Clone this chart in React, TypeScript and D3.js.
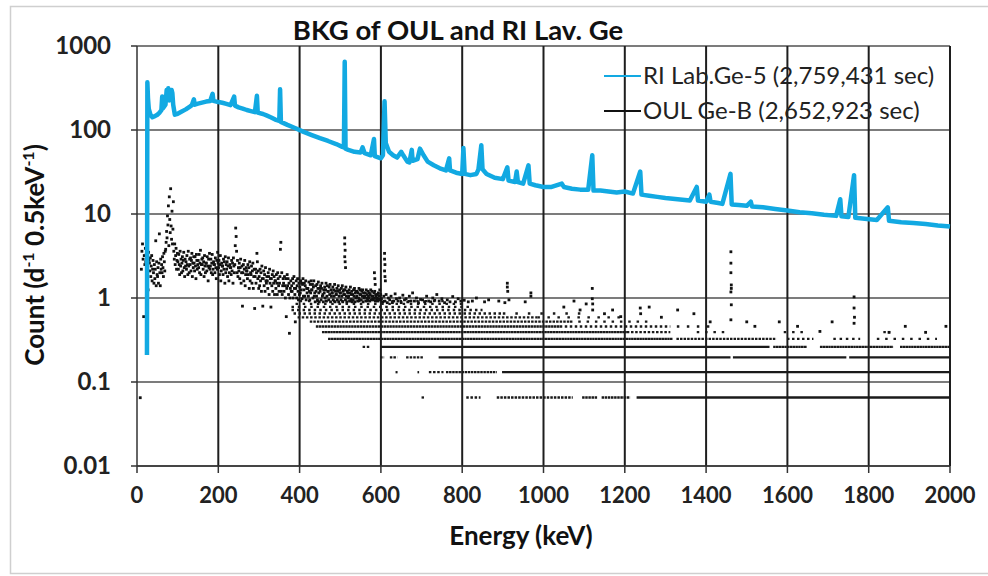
import React from "react";
import * as d3 from "d3";

// RI Lab.Ge-5 spectrum, [keV, count] (continuum + peaks)
const riSpectrum: [number, number][] = [
  [24.5, 0.21], [25.5, 370], [27, 240], [29, 178], [33, 152], [38, 142], [44, 146], [50, 152],
  [55, 160], [60, 172], [62, 250], [64, 182], [70, 200], [73, 300], [75, 240], [77, 315],
  [79, 225], [82, 262], [85, 300], [87, 275], [89, 200], [93, 152], [100, 156], [110, 166],
  [120, 176], [130, 190], [135, 198], [140, 232], [142, 200], [150, 206], [160, 212], [170, 218],
  [180, 222], [186, 270], [188, 222], [200, 215], [210, 211], [220, 205], [230, 198], [239, 250],
  [241, 195], [250, 186], [260, 180], [270, 173], [280, 168], [290, 163], [295, 255], [297, 161],
  [310, 155], [320, 148], [330, 141], [340, 133], [350, 128], [352, 305], [354, 125], [370, 115],
  [390, 105], [410, 95], [430, 87], [450, 80], [470, 74], [490, 68], [505, 63], [509, 62],
  [511, 650], [513, 60], [520, 58], [535, 55], [550, 54], [555, 62], [560, 53], [575, 50],
  [583, 78], [585, 49], [595, 47], [600, 46], [605, 50], [609, 220], [612, 70], [620, 55],
  [630, 50], [640, 47], [650, 55], [655, 50], [665, 42], [670, 41], [676, 58], [678, 43],
  [690, 45], [696, 60], [705, 50], [715, 42], [730, 38], [745, 35], [760, 33], [768, 46],
  [770, 33], [785, 31], [800, 30], [803, 61], [806, 30], [820, 29], [835, 30], [840, 34],
  [847, 66], [850, 34], [860, 30], [880, 27], [900, 26], [911, 36], [914, 25], [930, 24],
  [934, 32], [937, 24], [950, 23], [963, 38], [966, 23], [980, 22], [1000, 21], [1020, 21],
  [1045, 23], [1050, 21], [1070, 20], [1090, 19.5], [1110, 19.5], [1120, 50], [1123, 19],
  [1140, 19], [1160, 18.5], [1180, 18], [1200, 18.5], [1220, 17.5], [1238, 32], [1241, 17],
  [1260, 16.5], [1280, 16], [1300, 15.5], [1330, 15], [1360, 14.5], [1377, 21], [1380, 14.5],
  [1400, 14], [1408, 17], [1411, 14], [1430, 13.5], [1440, 13.2], [1460, 30], [1463, 13],
  [1480, 12.8], [1500, 12.5], [1510, 14], [1513, 12.3], [1540, 12], [1570, 11.5], [1600, 11],
  [1630, 10.5], [1660, 10.2], [1690, 9.8], [1720, 9.5], [1730, 15], [1733, 9.4], [1750, 9.2],
  [1764, 29], [1767, 9], [1790, 8.8], [1820, 8.5], [1847, 12], [1850, 8.3], [1880, 8.0],
  [1910, 7.8], [1940, 7.6], [1970, 7.3], [2000, 7.1],
];

// OUL Ge-B scatter, low-energy cloud: [bin start keV, counts seen in that bin]
const oulCloud: [number, number[]][] = [
  [10, [2.2, 3.6, 4.4, 2.9, 0.6, 3.2, 2.5]],
  [20, [3.9, 2.7, 3.3, 4.1, 2.4, 3.0, 1.25, 3.5, 2.8]],
  [30, [2.6, 2.1, 3.0, 1.8, 2.4, 3.2, 1.6, 2.2, 2.8]],
  [40, [2.0, 1.5, 2.5, 1.7, 2.2, 4.8, 1.4, 2.7, 1.9]],
  [50, [1.8, 2.3, 1.5, 2.6, 5.8, 2.0, 1.4, 2.9, 2.2]],
  [60, [2.5, 2.0, 3.1, 2.3, 1.8, 3.4, 2.7, 2.1, 3.6]],
  [70, [3.8, 4.6, 6.2, 5.2, 9.5, 7.4, 12.5, 4.2, 16]],
  [80, [8.6, 6.0, 20, 7.2, 5.0, 10.8, 4.4, 6.6, 14]],
  [90, [3.6, 2.9, 4.4, 2.5, 3.2, 3.9, 2.2, 2.8, 3.4]],
  [100, [2.7, 2.2, 3.3, 2.5, 1.9, 3.6, 2.4, 2.9, 2.0]],
  [110, [2.6, 3.1, 2.1, 2.8, 3.5, 2.3, 1.8, 2.9, 2.4]],
  [120, [2.7, 2.2, 3.2, 2.5, 1.9, 3.6, 2.4, 2.0, 2.9]],
  [130, [2.5, 3.0, 2.1, 2.8, 3.4, 1.8, 2.6, 2.3, 3.1]],
  [140, [2.6, 2.1, 3.1, 2.4, 1.7, 3.3, 2.8, 2.2, 2.5]],
  [150, [2.8, 2.3, 3.3, 2.0, 2.6, 3.7, 1.9, 2.5, 2.9]],
  [160, [2.5, 3.0, 2.2, 2.7, 1.8, 3.2, 2.4, 2.0, 2.6]],
  [170, [2.6, 2.1, 3.1, 2.4, 1.6, 2.9, 2.3, 3.4, 2.2]],
  [180, [2.4, 2.9, 2.0, 2.6, 3.3, 1.9, 2.2, 2.7, 2.5]],
  [190, [2.5, 2.0, 3.0, 2.3, 1.7, 2.8, 2.2, 3.5, 2.6]],
  [200, [2.3, 2.8, 1.9, 2.5, 3.2, 1.6, 2.1, 2.6, 2.4]],
  [210, [2.4, 1.9, 2.9, 2.2, 2.7, 1.5, 3.1, 2.0, 2.5]],
  [220, [2.2, 2.7, 1.8, 2.4, 3.0, 1.6, 2.0, 2.5, 2.3]],
  [230, [2.3, 1.9, 2.8, 2.1, 2.6, 1.5, 3.0, 2.4, 2.0]],
  [240, [2.5, 4.2, 6.8, 5.4, 3.6, 2.0, 2.8, 1.8, 2.3]],
  [250, [2.1, 2.6, 1.7, 2.3, 2.9, 1.5, 2.0, 2.4, 0.8]],
  [260, [2.0, 2.5, 1.6, 2.2, 2.8, 1.4, 1.9, 2.3, 2.1]],
  [270, [2.1, 1.7, 2.5, 1.9, 2.3, 1.3, 2.7, 1.6, 2.0]],
  [280, [1.9, 2.4, 1.5, 2.1, 2.6, 1.3, 1.8, 2.2, 0.75]],
  [290, [1.8, 2.2, 1.5, 2.0, 3.4, 2.7, 1.7, 2.1, 1.3]],
  [300, [1.8, 1.4, 2.2, 1.6, 2.0, 1.2, 2.4, 1.7, 0.8]],
  [310, [1.7, 2.1, 1.4, 1.9, 1.2, 2.3, 1.6, 1.5, 1.8]],
  [320, [1.6, 1.3, 2.0, 1.8, 1.1, 2.2, 1.5, 1.7, 0.78]],
  [330, [1.7, 1.4, 1.9, 1.2, 2.1, 1.5, 1.8, 1.1, 1.6]],
  [340, [1.6, 1.3, 1.9, 1.5, 1.1, 2.0, 1.7, 1.4, 1.2]],
  [350, [1.5, 1.8, 3.8, 4.6, 1.2, 2.0, 1.1, 1.4, 1.7]],
  [360, [1.5, 1.2, 1.8, 1.4, 1.0, 1.7, 0.6, 1.3, 1.9]],
  [370, [1.4, 1.7, 1.1, 1.5, 0.38, 1.0, 1.3, 1.6, 1.2]],
  [380, [1.4, 1.2, 1.7, 1.0, 1.5, 1.8, 1.3, 1.1, 0.52]],
  [390, [1.3, 1.6, 1.0, 1.4, 1.7, 1.2, 0.95, 1.5, 1.1]],
  [400, [1.35, 1.15, 1.6, 1.25, 1.5, 0.98, 1.45, 1.7, 1.05]],
  [410, [1.25, 1.5, 1.05, 1.4, 1.6, 0.95, 1.3, 1.15, 1.3]],
  [420, [1.3, 1.05, 1.55, 1.2, 0.95, 1.45, 1.15, 1.6, 1.25]],
  [430, [1.25, 1.45, 1.0, 1.35, 1.6, 1.05, 1.15, 0.9, 1.4]],
  [440, [1.2, 1.05, 1.45, 0.95, 1.3, 1.55, 1.15, 0.9, 1.3]],
  [450, [1.2, 1.4, 0.95, 1.3, 1.5, 1.05, 1.1, 0.9, 1.25]],
  [460, [1.15, 1.35, 1.0, 1.25, 1.5, 0.92, 1.05, 1.4, 1.2]],
  [470, [1.2, 0.95, 1.35, 1.1, 1.45, 0.9, 1.25, 1.05, 1.15]],
  [480, [1.15, 1.35, 0.95, 1.25, 1.05, 1.45, 0.9, 1.2, 1.1]],
  [490, [1.1, 1.3, 0.95, 1.2, 1.4, 0.9, 1.05, 1.25, 1.15]],
  [500, [1.15, 0.95, 1.3, 1.05, 1.4, 0.9, 1.2, 1.1, 1.25]],
  [510, [1.1, 1.25, 0.95, 1.35, 1.05, 0.9, 1.2, 1.15, 1.0]],
  [520, [1.05, 1.25, 0.92, 1.15, 1.35, 0.96, 1.1, 1.2, 0.9]],
  [530, [1.1, 0.95, 1.25, 1.05, 1.3, 0.9, 1.15, 1.0, 1.2]],
  [540, [1.05, 1.2, 0.92, 1.15, 1.0, 1.3, 0.95, 1.1, 1.25]],
  [550, [1.1, 0.95, 1.2, 1.05, 1.25, 0.9, 1.15, 1.0, 1.05]],
  [560, [1.05, 1.15, 0.92, 1.25, 1.0, 1.1, 0.95, 1.2, 1.05]],
  [570, [1.0, 1.15, 0.92, 1.1, 1.25, 0.95, 1.05, 1.2, 0.97]],
  [580, [1.05, 0.95, 1.15, 1.0, 1.2, 0.92, 1.1, 1.05, 0.97]],
  [590, [1.0, 1.1, 0.92, 1.15, 0.97, 1.05, 1.25, 0.95, 1.1]],
  [600, [0.98, 0.9, 1.05, 0.92, 1.1, 0.88, 1.0]],
  [620, [0.95, 1.05, 0.88, 0.92, 1.12, 0.98]],
  [640, [0.92, 1.0, 0.88, 1.08, 0.95]],
  [660, [0.98, 0.9, 1.05, 0.92, 1.15]],
  [680, [0.92, 1.0, 0.88, 0.96]],
  [700, [0.95, 0.9, 1.05, 0.92]],
  [720, [0.9, 1.0, 0.94, 1.1]],
  [740, [0.92, 0.98, 0.88]],
  [760, [0.95, 0.9, 1.04]],
  [780, [0.9, 0.98, 0.92]],
  [800, [0.94, 0.9]],
  [820, [0.92, 1.0]],
  [850, [0.9, 0.95]],
  [880, [0.92]],
  [900, [0.88, 0.95]],
  [950, [0.9]],
];

// OUL Ge-B isolated points (peaks and strays): [keV, count]
const oulPeaks: [number, number][] = [
  [8, 0.065], [511, 5.2], [511, 4.4], [512, 3.7], [511, 3.1], [512, 2.7], [513, 2.3],
  [584, 2.0], [585, 1.7], [586, 1.45], [609, 3.4], [609, 2.9], [610, 2.5], [609, 2.1],
  [610, 1.8], [611, 1.6], [911, 1.5], [911, 1.35], [912, 1.2], [969, 1.15], [969, 1.05],
  [1120, 1.3], [1120, 0.98], [1121, 0.85], [1121, 0.72], [1238, 0.76], [1239, 0.65],
  [1461, 3.55], [1461, 2.6], [1461, 2.0], [1462, 1.43], [1462, 1.3], [1461, 1.18],
  [1462, 0.83], [1461, 0.55], [1764, 1.03], [1764, 0.76], [1765, 0.59], [1764, 0.5],
  [1050, 0.78], [1075, 0.92], [1090, 0.72], [1105, 0.85], [1150, 0.65], [1170, 0.72],
  [1190, 0.6], [1260, 0.78], [1290, 0.59], [1330, 0.72], [1370, 0.65], [1410, 0.52],
  [1500, 0.52], [1520, 0.46], [1580, 0.52], [1625, 0.46], [1680, 0.4], [1710, 0.52],
  [1850, 0.39], [1890, 0.46], [1940, 0.39], [1990, 0.46],
];

// quantised count levels (multiples of one count): [level, from keV, to keV, share of channels hit]
const countUnit = 0.0654;
const oulLevels: [number, number, number, number][] = [
  [1, 700, 706, 1], [1, 810, 845, 0.6], [1, 885, 1072, 0.7], [1, 1095, 1132, 0.8],
  [1, 1143, 1213, 0.8], [1, 1229, 2000, 1],
  [2, 636, 641, 1], [2, 690, 694, 1], [2, 718, 754, 0.6], [2, 760, 885, 0.8], [2, 898, 2000, 1],
  [3, 598, 608, 0.7], [3, 622, 640, 0.7], [3, 662, 705, 0.7], [3, 742, 1460, 1],
  [3, 1466, 1745, 1], [3, 1752, 2000, 1],
  [4, 555, 575, 0.6], [4, 600, 1556, 1], [4, 1565, 1648, 0.9], [4, 1680, 1860, 0.9],
  [4, 1877, 2000, 0.9],
  [5, 470, 1318, 0.9], [5, 1327, 1573, 0.7], [5, 1599, 1664, 0.5], [5, 1713, 1779, 0.4],
  [5, 1820, 1968, 0.3],
  [6, 455, 1205, 0.9], [6, 1205, 1312, 0.6], [6, 1377, 1451, 0.3], [6, 1591, 1648, 0.3],
  [6, 1836, 1853, 0.5],
  [7, 440, 1040, 0.85], [7, 1040, 1312, 0.5], [7, 1328, 1418, 0.25],
  [8, 425, 1065, 0.7], [8, 1065, 1270, 0.3],
  [9, 395, 985, 0.6], [9, 985, 1200, 0.25],
  [10, 385, 900, 0.5], [10, 900, 1100, 0.2],
  [11, 380, 850, 0.45], [12, 380, 820, 0.4], [13, 390, 800, 0.35], [14, 400, 760, 0.3],
];

const xTicks = [0, 200, 400, 600, 800, 1000, 1200, 1400, 1600, 1800, 2000];
const yTicks = [0.01, 0.1, 1, 10, 100, 1000];
const yTickLabels = ["0.01", "0.1", "1", "10", "100", "1000"];
const seriesNames = ["RI Lab.Ge-5 (2,759,431 sec)", "OUL Ge-B (2,652,923 sec)"];

const FONT = "Lato, 'Open Sans', sans-serif";
const BLUE = "#12a9e2";

export default function App() {
  const x = d3.scaleLinear().domain([0, 2000]).range([137, 950]);
  const y = d3.scaleLog().domain([0.01, 1000]).range([466, 46]);

  const riLine = d3
    .line<[number, number]>()
    .x((d) => x(d[0]))
    .y((d) => y(d[1]));

  // spread each bin's counts across the bin width
  const cloudPts: [number, number][] = [];
  oulCloud.forEach(([e, vals], i) => {
    const next = i < oulCloud.length - 1 ? oulCloud[i + 1][0] : e + 10;
    const w = Math.min(next - e, 20);
    vals.forEach((v, j) => cloudPts.push([e + ((j + 0.5) * w) / vals.length, v]));
  });
  const dots = cloudPts.concat(oulPeaks);

  return (
    <svg
      width={988}
      height={576}
      style={{ position: "fixed", left: 0, top: 0, background: "#fff" }}
      fontFamily={FONT}
    >
      <rect x={10.5} y={6.5} width={990} height={567} fill="#fff" stroke="#cfcfcf" strokeWidth={1.5} />

      {/* gridlines */}
      {yTicks.map((t) => (
        <line key={"h" + t} x1={x(0)} x2={x(2000)} y1={y(t)} y2={y(t)} stroke="#7c7c7c" strokeWidth={2} />
      ))}
      {xTicks.slice(1).map((t) => (
        <line key={"v" + t} x1={x(t)} x2={x(t)} y1={y(1000)} y2={y(0.01)} stroke="#1e1e1e" strokeWidth={2} />
      ))}

      {/* OUL quantised levels */}
      {oulLevels.map(([lv, a, b, occ], i) => {
        const dash = occ >= 1 ? undefined : `2.5 ${((2.5 * (1 - occ)) / occ).toFixed(2)}`;
        return (
          <line
            key={"l" + i}
            x1={x(a)}
            x2={x(b)}
            y1={y(lv * countUnit)}
            y2={y(lv * countUnit)}
            stroke="#1a1a1a"
            strokeWidth={2.3}
            strokeDasharray={dash}
          />
        );
      })}
      {/* OUL points */}
      {dots.map(([e, v], i) => (
        <rect key={"d" + i} x={x(e) - 1.4} y={y(v) - 1.4} width={2.8} height={2.8} fill="#111" />
      ))}

      {/* RI line */}
      <path d={riLine(riSpectrum) || ""} fill="none" stroke={BLUE} strokeWidth={4.5} strokeLinejoin="round" />

      {/* axes */}
      <line x1={x(0)} x2={x(0)} y1={y(1000)} y2={y(0.01)} stroke="#333" strokeWidth={1.5} />
      <line x1={x(0)} x2={x(2000)} y1={y(0.01)} y2={y(0.01)} stroke="#333" strokeWidth={1.5} />
      {yTicks.map((t, i) => (
        <g key={"yt" + t}>
          <line x1={x(0) - 6} x2={x(0)} y1={y(t)} y2={y(t)} stroke="#333" strokeWidth={1.5} />
          <text x={111} y={y(t)} dy="0.35em" textAnchor="end" fontSize={24} fontWeight="bold" fill="#222">
            {yTickLabels[i]}
          </text>
        </g>
      ))}
      {xTicks.map((t) => (
        <g key={"xt" + t}>
          <line x1={x(t)} x2={x(t)} y1={y(0.01)} y2={y(0.01) + 7} stroke="#333" strokeWidth={1.5} />
          <text x={x(t)} y={503} textAnchor="middle" fontSize={22} fontWeight="bold" fill="#222">
            {d3.format("d")(t)}
          </text>
        </g>
      ))}

      {/* titles */}
      <text x={458} y={40} textAnchor="middle" fontSize={27.5} fontWeight="bold" fill="#111">
        BKG of OUL and RI Lav. Ge
      </text>
      <text x={521} y={545} textAnchor="middle" fontSize={26} fontWeight="bold" fill="#111">
        Energy (keV)
      </text>
      <text transform="translate(44,255) rotate(-90)" textAnchor="middle" fontSize={26} fontWeight="bold" fill="#111">
        Count (d<tspan dy={-10} fontSize={16}>-1</tspan>
        <tspan dy={10}> 0.5keV</tspan>
        <tspan dy={-10} fontSize={16}>-1</tspan>
        <tspan dy={10}>)</tspan>
      </text>

      {/* legend */}
      <line x1={604} x2={641} y1={76} y2={76} stroke={BLUE} strokeWidth={2} />
      <text x={643} y={84} fontSize={24} fill="#222">{seriesNames[0]}</text>
      <line x1={604} x2={641} y1={111} y2={111} stroke="#111" strokeWidth={2} />
      <text x={643} y={119} fontSize={24} fill="#222">{seriesNames[1]}</text>
    </svg>
  );
}
